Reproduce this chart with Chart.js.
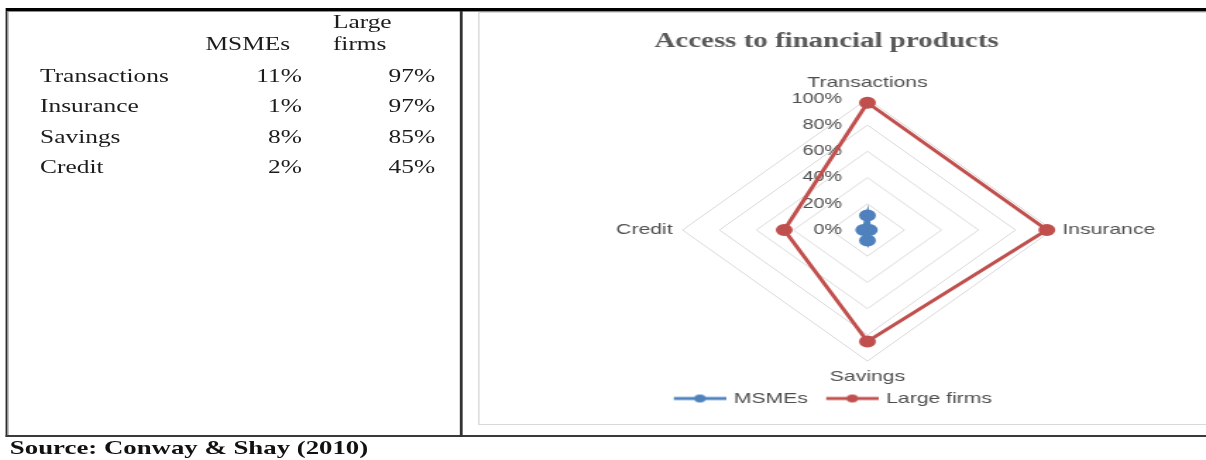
<!DOCTYPE html>
<html>
<head>
<meta charset="utf-8">
<script src="https://cdn.jsdelivr.net/npm/chart.js@4/dist/chart.umd.min.js"></script>
<style>
  html, body { margin: 0; padding: 0; background: #fff; overflow: hidden; }
  /* the reference is stretched sideways, so the page is laid out narrow and scaled */
  #page { position: absolute; left: 0; top: 0; width: 855px; height: 460px;
          transform: scaleX(1.4105); transform-origin: 0 0; }
  .ln { position: absolute; }
  .txt { position: absolute; font-family: "Liberation Serif", "Times New Roman", serif;
         font-size: 18px; line-height: 20px; color: #1c1c1c; white-space: nowrap; }
  .r { text-align: right; }
  #chartBox { position: absolute; left: 339px; top: 12px; width: 600px; height: 413px;
              box-sizing: border-box; border: 1px solid #d9d9d9; }
  #radar { position: absolute; left: 340px; top: 12px; }
  #source { position: absolute; left: 7px; top: 437px; font-family: "Liberation Serif", serif;
            font-weight: bold; font-size: 19px; line-height: 22px; color: #111; white-space: nowrap; }
</style>
</head>
<body>
<div id="page">
  <div class="ln" style="left:3.5px;top:8px;width:900px;height:3px;background:#000"></div>
  <div class="ln" style="left:5px;top:11px;width:900px;height:1px;background:#8c8c8c"></div>
  <div class="ln" style="left:3.5px;top:8px;width:1.5px;height:429px;background:#000"></div>
  <div class="ln" style="left:5px;top:11px;width:1.3px;height:426px;background:#8c8c8c"></div>
  <div class="ln" style="left:3.5px;top:435px;width:900px;height:2px;background:#3a3a3a"></div>
  <div class="ln" style="left:325.8px;top:11px;width:2px;height:426px;background:#333"></div>
  <div id="table"></div>
  <div id="chartBox"></div>
  <canvas id="radar" width="492" height="411"></canvas>
  <div id="source">Source: Conway &amp; Shay (2010)</div>
</div>
<script>
var categories = ["Transactions", "Insurance", "Savings", "Credit"];
var msmeValues = [11, 1, 8, 2];
var largeValues = [97, 97, 85, 45];
var seriesNames = ["MSMEs", "Large firms"];
var tickValues = [0, 20, 40, 60, 80, 100];
var tickLabels = ["0%", "20%", "40%", "60%", "80%", "100%"];

var blue = "#4f81bd";
var red = "#c0504d";
var grey = "#4f4f4f";

// left-hand table
function addText(html, style, cls) {
  var d = document.createElement("div");
  d.className = "txt" + (cls ? " " + cls : "");
  d.style.cssText = style;
  d.textContent = html;
  document.getElementById("table").appendChild(d);
}
addText(seriesNames[0], "left:0;width:205.7px;top:34px", "r");
addText("Large", "left:236px;top:11.5px");
addText("firms", "left:236px;top:34px");
var rowTops = [65.6, 96.2, 126.8, 157.4];
for (var i = 0; i < categories.length; i++) {
  addText(categories[i], "left:28.4px;top:" + rowTops[i] + "px");
  addText(msmeValues[i] + "%", "left:0;width:214px;top:" + rowTops[i] + "px", "r");
  addText(largeValues[i] + "%", "left:0;width:308.5px;top:" + rowTops[i] + "px", "r");
}

// legend marker: short line with a dot in the middle, like Excel
function legendMark(color) {
  var c = document.createElement("canvas");
  c.width = 48; c.height = 10;
  var g = c.getContext("2d");
  g.strokeStyle = color; g.lineWidth = 3;
  g.beginPath(); g.moveTo(11, 5); g.lineTo(48, 5); g.stroke();
  g.fillStyle = color;
  g.beginPath(); g.arc(29.5, 5, 4, 0, Math.PI * 2); g.fill();
  return c;
}

// empty box on the left so the radar sits right of the title centre
var spacer = {
  position: "left", weight: 0, fullSize: false, options: {},
  width: 0, height: 0,
  isHorizontal: function() { return false; },
  update: function(maxW, maxH) { this.width = 84; this.height = maxH; },
  getPadding: function() { return {left: 0, right: 0, top: 0, bottom: 0}; },
  draw: function() {}
};
var spacerPlugin = {
  id: "spacer",
  beforeInit: function(chart) { Chart.layouts.addBox(chart, spacer); }
};

// tick labels sit left of the vertical axis
var tickPlugin = {
  id: "tickText",
  beforeDatasetsDraw: function(chart) {
    var r = chart.scales.r, ctx = chart.ctx;
    ctx.save();
    ctx.font = '14px "Liberation Sans", Arial, sans-serif';
    ctx.fillStyle = grey;
    ctx.textAlign = "right";
    ctx.textBaseline = "middle";
    for (var k = 0; k < tickValues.length; k++) {
      ctx.fillText(tickLabels[k], r.xCenter - 18, r.yCenter - r.getDistanceFromCenterForValue(tickValues[k]));
    }
    ctx.restore();
  }
};

Chart.defaults.font.family = '"Liberation Sans", Arial, sans-serif';
Chart.defaults.color = grey;

new Chart(document.getElementById("radar"), {
  type: "radar",
  data: {
    labels: categories,
    datasets: [
      { label: seriesNames[0], data: msmeValues, borderColor: blue, backgroundColor: blue,
        pointBackgroundColor: blue, pointBorderColor: blue, borderWidth: 3, pointRadius: 4.5, fill: false },
      { label: seriesNames[1], data: largeValues, borderColor: red, backgroundColor: red,
        pointBackgroundColor: red, pointBorderColor: red, borderWidth: 3, pointRadius: 4.5, fill: false }
    ]
  },
  plugins: [spacerPlugin, tickPlugin],
  options: {
    responsive: false,
    animation: false,
    layout: { padding: { top: 6, bottom: 7 } },
    scales: {
      r: {
        min: 0, max: 100,
        ticks: { stepSize: 20, display: false },
        grid: { circular: false, color: "#d9d9d9", lineWidth: 1 },
        angleLines: { display: false },
        pointLabels: { color: grey, padding: 7, font: { size: 15 } }
      }
    },
    plugins: {
      title: {
        display: true,
        text: "Access to financial products",
        color: "#595959",
        font: { family: '"Liberation Serif", "Times New Roman", serif', size: 20.5, weight: "bold" },
        padding: { top: 11, bottom: 20 }
      },
      legend: {
        position: "bottom",
        labels: {
          usePointStyle: true,
          pointStyleWidth: 44,
          padding: 4,
          color: grey,
          font: { size: 15 },
          generateLabels: function(chart) {
            return chart.data.datasets.map(function(ds, idx) {
              return { text: ds.label, pointStyle: legendMark(ds.borderColor), fillStyle: ds.borderColor,
                       strokeStyle: ds.borderColor, lineWidth: 0, hidden: false, datasetIndex: idx, fontColor: grey };
            });
          }
        }
      },
      tooltip: { enabled: false }
    }
  }
});
</script>
</body>
</html>
